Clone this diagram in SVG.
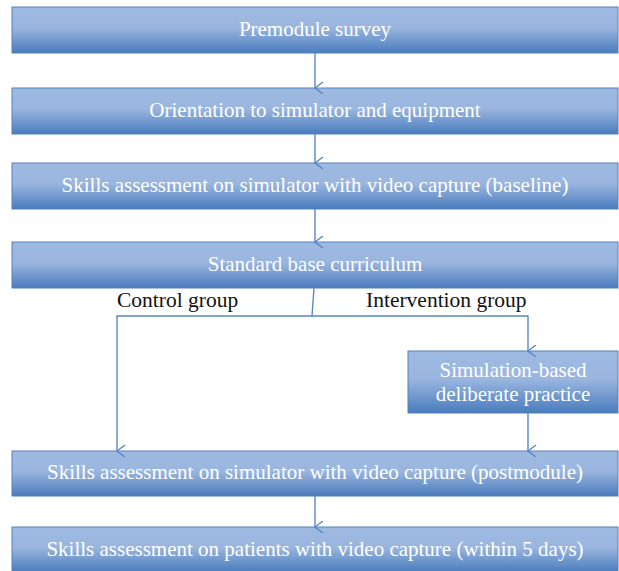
<svg xmlns="http://www.w3.org/2000/svg" width="619" height="571" viewBox="0 0 619 571">
<defs>
<linearGradient id="g" x1="0" y1="0" x2="0" y2="1">
<stop offset="0" stop-color="#9fbae1"/>
<stop offset="0.45" stop-color="#9ab6df"/>
<stop offset="1" stop-color="#4a7cbd"/>
</linearGradient>
<marker id="a" viewBox="0 0 12 10" refX="6" refY="9" markerWidth="12" markerHeight="10" markerUnits="userSpaceOnUse" orient="auto-start-reverse">
<path d="M0,1 L6,9 L12,1" fill="none" stroke="#5a86c2" stroke-width="1.4"/>
</marker>
</defs>
<style>
.box{fill:url(#g);stroke:#5580bd;stroke-width:1}
.bt{font-family:"Liberation Serif",serif;font-size:21px;fill:#fff;text-anchor:middle}
.lt{font-family:"Liberation Serif",serif;font-size:21.5px;fill:#111}
.c{fill:none;stroke:#5a86c2;stroke-width:1.4}
</style>
<g id="n1"><rect class="box" x="12" y="7" width="606" height="46"/><text class="bt" x="315" y="36">Premodule survey</text></g>
<g id="n2"><rect class="box" x="12" y="88" width="606" height="46"/><text class="bt" x="315" y="117">Orientation to simulator and equipment</text></g>
<g id="n3"><rect class="box" x="12" y="163" width="606" height="46"/><text class="bt" x="315" y="192">Skills assessment on simulator with video capture (baseline)</text></g>
<g id="n4"><rect class="box" x="12" y="242" width="606" height="46"/><text class="bt" x="315" y="271">Standard base curriculum</text></g>
<g id="n5"><rect class="box" x="408" y="351" width="210" height="62"/><text class="bt" x="513" y="377">Simulation-based</text><text class="bt" x="513" y="401">deliberate practice</text></g>
<g id="n6"><rect class="box" x="12" y="451" width="606" height="45"/><text class="bt" x="315" y="479">Skills assessment on simulator with video capture (postmodule)</text></g>
<g id="n7"><rect class="box" x="12" y="527" width="606" height="45"/><text class="bt" x="315" y="556">Skills assessment on patients with video capture (within 5 days)</text></g>
<g id="labels">
<text class="lt" x="117" y="307">Control group</text>
<text class="lt" x="366" y="307">Intervention group</text>
</g>
<g id="connectors">
<line class="c" x1="315" y1="53" x2="315" y2="88" marker-end="url(#a)"/>
<line class="c" x1="315" y1="134" x2="315" y2="163" marker-end="url(#a)"/>
<line class="c" x1="315" y1="209" x2="315" y2="242" marker-end="url(#a)"/>
<polyline class="c" points="314,288 312,316 117,316 117,451" marker-end="url(#a)"/>
<polyline class="c" points="312,316 528,316 528,351" marker-end="url(#a)"/>
<line class="c" x1="528" y1="413" x2="528" y2="451" marker-end="url(#a)"/>
<line class="c" x1="315" y1="496" x2="315" y2="527" marker-end="url(#a)"/>
</g>
</svg>
